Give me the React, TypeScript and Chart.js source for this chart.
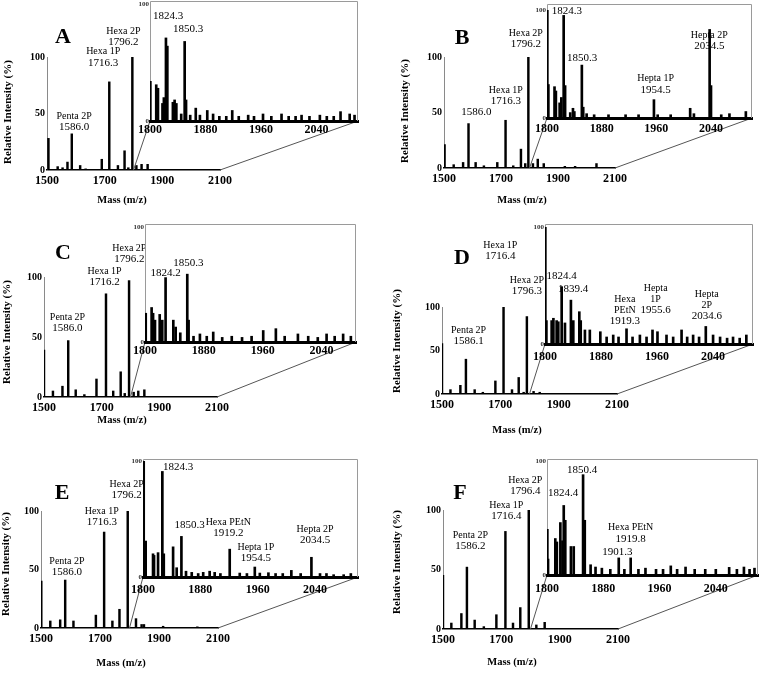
import React, { useEffect, useRef } from "react";
import { Chart, registerables } from "chart.js";

Chart.register(...registerables);

const SERIF = "'Liberation Serif', 'Times New Roman', serif";

type Peak = [number, number];
type Note = { text: string[]; at: [number, number] };

// ---------- shared axis values ----------
const MAIN_MIN = 1500;
const MAIN_MAX = 2100;
const INSET_START = 1800;
const MAIN_X_TICKS = [1500, 1700, 1900, 2100];
const INSET_X_TICKS = [1800, 1880, 1960, 2040];
const MAIN_Y_TICKS = [0, 50, 100];
const INSET_Y_TICKS = [0, 100];
const PANEL_LETTERS = ["A", "B", "C", "D", "E", "F"];

// ---------- Panel A ----------
const aMainPeaks: Peak[] = [[1505, 28], [1537, 3], [1554, 2], [1571, 7], [1586, 32], [1615, 4], [1634, 1], [1690, 9.5], [1716, 78], [1746, 4], [1769, 17], [1782, 2], [1796, 100], [1810, 4], [1828, 5], [1849, 5]];
const aInsetPeaks: Peak[] = [[1800.5, 34], [1809, 31], [1811.5, 28], [1818, 15], [1820, 20], [1823, 71], [1825, 64], [1833, 16], [1835.5, 18], [1838, 15], [1845, 6], [1850, 68], [1852, 18], [1858, 5], [1866, 11], [1872, 5], [1882.6, 9], [1891, 6], [1900, 4], [1910, 4], [1918.6, 9], [1928, 4], [1941.6, 5], [1950, 4], [1963, 6], [1975, 4], [1989.7, 6], [2000, 4], [2010, 4], [2018.6, 5], [2030, 4], [2045, 5], [2055, 4], [2065, 4], [2074.8, 8], [2088, 6], [2095, 5]];
const aMainNotes: Note[] = [
  { text: ["Penta 2P", "1586.0"], at: [1594, 33] },
  { text: ["Hexa 1P", "1716.3"], at: [1695, 90] },
  { text: ["Hexa 2P", "1796.2"], at: [1765, 108] },
];
const aInsetNotes: Note[] = [
  { text: ["1824.3"], at: [1826, 85] },
  { text: ["1850.3"], at: [1855, 73.5] },
];

// ---------- Panel B ----------
const bMainPeaks: Peak[] = [[1502, 21], [1534, 3], [1567, 5], [1586, 40], [1611, 5], [1640, 2], [1687, 5], [1716, 43], [1743, 2], [1770, 17], [1785, 4], [1796, 100], [1812, 4], [1829, 8], [1850, 4], [1924, 1.5], [1960, 1.5], [2035, 4]];
const bInsetPeaks: Peak[] = [[1800.5, 100], [1802, 31], [1811, 29], [1813, 25], [1818.5, 14], [1821, 19], [1824.4, 95], [1826.5, 30], [1834, 5], [1838, 9], [1840, 6], [1851, 49], [1853, 10], [1858, 4], [1869, 3], [1890, 3], [1915, 3], [1934, 3], [1956.5, 17], [1962, 3], [1981, 3], [2009.5, 9], [2015, 4], [2038, 82], [2040, 30], [2055, 3], [2067, 4], [2091, 6]];
const bMainNotes: Note[] = [
  { text: ["1586.0"], at: [1614, 45] },
  { text: ["Hexa 1P", "1716.3"], at: [1717, 55] },
  { text: ["Hexa 2P", "1796.2"], at: [1787, 106.6] },
];
const bInsetNotes: Note[] = [
  { text: ["1824.3"], at: [1829, 94] },
  { text: ["1850.3"], at: [1851.4, 50] },
  { text: ["Hepta 1P", "1954.5"], at: [1959, 21] },
  { text: ["Hepta 2P", "2034.5"], at: [2037.5, 61.5] },
];

// ---------- Panel C ----------
const cMainPeaks: Peak[] = [[1500, 39], [1531, 5], [1564, 9], [1584, 47], [1610, 6], [1640, 2], [1682, 15], [1715, 86], [1740, 5], [1766, 21], [1780, 3], [1795, 97], [1811, 4], [1827, 5], [1848, 6]];
const cInsetPeaks: Peak[] = [[1801, 25], [1809, 30], [1811, 25], [1813.6, 19], [1820, 24], [1823.5, 19], [1828, 56], [1838.5, 19], [1841.7, 13], [1848, 8], [1857.5, 59], [1859.3, 19], [1866, 5], [1874.7, 7], [1884, 5], [1892.8, 8.7], [1905, 4], [1918, 5], [1932, 4], [1945, 5], [1960.8, 10], [1978, 11.6], [1990, 5], [2008, 7], [2022, 5], [2035, 4], [2047, 7], [2058, 5], [2069.5, 7], [2080, 5]];
const cMainNotes: Note[] = [
  { text: ["Penta 2P", "1586.0"], at: [1581.5, 53] },
  { text: ["Hexa 1P", "1716.2"], at: [1710, 91] },
  { text: ["Hexa 2P", "1796.2"], at: [1796, 110] },
];
const cInsetNotes: Note[] = [
  { text: ["1824.2"], at: [1828, 55] },
  { text: ["1850.3"], at: [1859, 64] },
];

// ---------- Panel D ----------
const dMainPeaks: Peak[] = [[1500, 58], [1529, 5], [1563, 10], [1582, 40], [1612, 5], [1640, 2], [1683, 15], [1711, 100], [1740, 5], [1763, 19], [1780, 2], [1791, 89], [1814, 3], [1835, 2]];
const dInsetPeaks: Peak[] = [[1800.5, 100], [1802, 20], [1809.5, 20], [1812, 22], [1816.6, 20], [1819, 19], [1823.8, 49], [1828.5, 18], [1837, 37.5], [1840.4, 20], [1849, 27.6], [1851, 20], [1857, 12], [1864, 12], [1879, 10.5], [1888, 6], [1897.4, 7.7], [1905, 6], [1916.4, 13], [1925, 6], [1935.5, 7.7], [1945, 6], [1953.5, 12], [1960.6, 10.5], [1973.5, 7.7], [1983, 6], [1995, 12], [2003, 6], [2011.5, 7.7], [2020, 6], [2029.6, 15], [2040, 7.7], [2050, 6], [2060, 5], [2068.5, 6], [2078, 5], [2087.5, 7.7]];
const dMainNotes: Note[] = [
  { text: ["Penta 2P", "1586.1"], at: [1591, 54] },
  { text: ["Hexa 1P", "1716.4"], at: [1700, 152] },
  { text: ["Hexa 2P", "1796.3"], at: [1791, 112] },
];
const dInsetNotes: Note[] = [
  { text: ["1824.4"], at: [1823.8, 53] },
  { text: ["1839.4"], at: [1840, 42] },
  { text: ["Hexa", "PEtN", "1919.3"], at: [1914, 14.5] },
  { text: ["Hepta", "1P", "1955.6"], at: [1958, 24] },
  { text: ["Hepta", "2P", "2034.6"], at: [2031, 19] },
];

// ---------- Panel E ----------
const eMainPeaks: Peak[] = [[1501, 40], [1531.5, 6], [1565, 7], [1582, 41], [1610, 6], [1686, 11], [1714, 82], [1742, 6], [1766, 16], [1794, 100], [1822, 8], [1841, 3], [1849, 3], [1914, 1.5], [2030, 1]];
const eInsetPeaks: Peak[] = [[1801, 100], [1803.7, 31], [1814, 20], [1815.4, 18.6], [1821, 21], [1827, 91], [1829, 20], [1842, 26], [1847, 8], [1853.6, 35], [1860, 5], [1868, 4], [1877, 3], [1884, 4], [1893, 5], [1900, 4], [1908, 3], [1921, 24], [1935, 3.4], [1945, 3], [1956, 8.6], [1963, 3.4], [1975, 3.7], [1985, 3], [1995, 3], [2007, 5.7], [2020, 3], [2035, 17], [2047, 3], [2056, 3], [2066, 2], [2080, 2], [2090, 3]];
const eMainNotes: Note[] = [
  { text: ["Penta 2P", "1586.0"], at: [1588, 43] },
  { text: ["Hexa 1P", "1716.3"], at: [1706, 86] },
  { text: ["Hexa 2P", "1796.2"], at: [1790.5, 109] },
];
const eInsetNotes: Note[] = [
  { text: ["1824.3"], at: [1849, 90] },
  { text: ["1850.3"], at: [1865, 40] },
  { text: ["Hexa PEtN", "1919.2"], at: [1919, 33] },
  { text: ["Hepta 1P", "1954.5"], at: [1957.5, 11.5] },
  { text: ["Hepta 2P", "2034.5"], at: [2040, 27] },
];

// ---------- Panel F ----------
const fMainPeaks: Peak[] = [[1500, 45], [1528.6, 5], [1563, 13], [1582, 52], [1608.6, 7.5], [1640, 2], [1683, 12], [1714, 82], [1740, 5], [1765, 18], [1794, 100], [1820, 3.4], [1848.6, 5.6]];
const fInsetPeaks: Peak[] = [[1800.5, 40], [1801.5, 14], [1811.8, 32], [1814, 29], [1819, 46], [1822, 30], [1823.8, 61], [1826, 48], [1834, 25], [1838, 25], [1851.3, 88], [1853.7, 48], [1862, 9], [1869, 7], [1878, 6], [1890, 5], [1902, 15], [1910, 5], [1919, 15], [1930, 5], [1940, 6], [1955, 5], [1965, 5], [1976, 8], [1985, 5], [1997, 7], [2010, 5], [2025, 5], [2040, 5], [2059, 6.7], [2070, 5], [2080, 7], [2088, 5], [2095, 6]];
const fMainNotes: Note[] = [
  { text: ["Penta 2P", "1586.2"], at: [1594, 64.7] },
  { text: ["Hexa 1P", "1716.4"], at: [1717, 90] },
  { text: ["Hexa 2P", "1796.4"], at: [1782, 111] },
];
const fInsetNotes: Note[] = [
  { text: ["1824.4"], at: [1822.8, 66.7] },
  { text: ["1850.4"], at: [1850, 87.6] },
  { text: ["Hexa PEtN", "1919.8"], at: [1919, 27] },
  { text: ["1901.3"], at: [1900, 15] },
];

const INSET_MAX = [2100, 2100, 2087, 2097, 2100, 2100];

// ---------- layout (page pixels) ----------
type Box = { L: number; R: number; T: number; B: number };
type Layout = {
  canvas: [number, number, number, number];
  main: Box;
  inset: Box;
  frameTop: number;
  letter: [number, number];
  yTitle: [number, number];
  xTitle: [number, number];
  insetPad: number;
};

const LAYOUTS: Layout[] = [
  { canvas: [0, 0, 380, 220], main: { L: 47, R: 220, T: 57, B: 170 }, inset: { L: 150, R: 358, T: 4, B: 121 }, frameTop: 1, letter: [63, 37], yTitle: [8, 112], xTitle: [122, 200], insetPad: 2 },
  { canvas: [380, 0, 380, 220], main: { L: 444, R: 615, T: 57, B: 168 }, inset: { L: 547, R: 752, T: 10, B: 118 }, frameTop: 4, letter: [462, 38], yTitle: [405, 111], xTitle: [522, 200], insetPad: 4 },
  { canvas: [0, 220, 380, 220], main: { L: 44, R: 217, T: 277, B: 397 }, inset: { L: 145, R: 356, T: 227, B: 342 }, frameTop: 224, letter: [63, 253], yTitle: [7, 332], xTitle: [122, 420], insetPad: 2 },
  { canvas: [380, 220, 380, 220], main: { L: 442, R: 617, T: 307, B: 394 }, inset: { L: 545, R: 753, T: 227, B: 344 }, frameTop: 224, letter: [462, 258], yTitle: [397, 341], xTitle: [517, 430], insetPad: 6 },
  { canvas: [0, 440, 380, 233], main: { L: 41, R: 218, T: 511, B: 628 }, inset: { L: 143, R: 358, T: 461, B: 577 }, frameTop: 459, letter: [62, 493], yTitle: [6, 564], xTitle: [121, 663], insetPad: 6 },
  { canvas: [380, 440, 380, 233], main: { L: 443, R: 618, T: 510, B: 629 }, inset: { L: 547, R: 758, T: 461, B: 575 }, frameTop: 459, letter: [460, 493], yTitle: [397, 562], xTitle: [512, 662], insetPad: 7 },
];

type PanelDef = {
  letter: string;
  mainPeaks: Peak[];
  insetPeaks: Peak[];
  mainNotes: Note[];
  insetNotes: Note[];
  insetMax: number;
  layout: Layout;
};

const PANELS: PanelDef[] = [
  { mainPeaks: aMainPeaks, insetPeaks: aInsetPeaks, mainNotes: aMainNotes, insetNotes: aInsetNotes },
  { mainPeaks: bMainPeaks, insetPeaks: bInsetPeaks, mainNotes: bMainNotes, insetNotes: bInsetNotes },
  { mainPeaks: cMainPeaks, insetPeaks: cInsetPeaks, mainNotes: cMainNotes, insetNotes: cInsetNotes },
  { mainPeaks: dMainPeaks, insetPeaks: dInsetPeaks, mainNotes: dMainNotes, insetNotes: dInsetNotes },
  { mainPeaks: eMainPeaks, insetPeaks: eInsetPeaks, mainNotes: eMainNotes, insetNotes: eInsetNotes },
  { mainPeaks: fMainPeaks, insetPeaks: fInsetPeaks, mainNotes: fMainNotes, insetNotes: fInsetNotes },
].map((p, i) => ({ ...p, letter: PANEL_LETTERS[i], insetMax: INSET_MAX[i], layout: LAYOUTS[i] }));

const AXIS_FONT = { family: SERIF, size: 12, weight: "bold" as const };

function drawNotes(ctx: CanvasRenderingContext2D, xs: any, ys: any, notes: Note[]) {
  ctx.fillStyle = "#000";
  ctx.textAlign = "center";
  ctx.textBaseline = "middle";
  for (const n of notes) {
    const x = xs.getPixelForValue(n.at[0]);
    const yb = ys.getPixelForValue(n.at[1]);
    const k = n.text.length;
    n.text.forEach((line, i) => {
      const isNum = /^[\d.]+$/.test(line);
      ctx.font = `${isNum ? 11 : 10}px ${SERIF}`;
      ctx.fillText(line, x, yb - 5.5 - (k - 1 - i) * 11);
    });
  }
}

function insetGeom(g: Layout) {
  const ix = g.inset.L - 26;
  const iy = g.frameTop - 4;
  const iw = g.inset.R - ix + 2;
  const ih = g.inset.B - iy + 24;
  return { ix, iy, iw, ih };
}

function makeInset(canvas: HTMLCanvasElement, def: PanelDef) {
  const g = def.layout;
  const { ix, iy, iw, ih } = insetGeom(g);
  const WY = 16;
  const HX = 22;
  const frameY = g.frameTop - iy;
  return new Chart(canvas, {
    type: "bar",
    data: {
      datasets: [
        {
          data: def.insetPeaks.map(([x, y]) => ({ x, y })),
          backgroundColor: "#000",
          borderWidth: 0,
          barThickness: 2,
        } as any,
      ],
    },
    options: {
      responsive: false,
      animation: false,
      devicePixelRatio: 1,
      events: [],
      layout: {
        padding: { left: 26 - WY, top: g.inset.T - iy, right: iw - (g.inset.R - ix), bottom: ih - (g.inset.B - iy) - HX },
      },
      plugins: { legend: { display: false }, tooltip: { enabled: false } },
      scales: {
        x: {
          type: "linear",
          min: INSET_START,
          max: def.insetMax,
          offset: false,
          grid: { display: false, drawTicks: false },
          border: { display: true, color: "#000", width: 3 },
          afterBuildTicks: (s: any) => {
            s.ticks = INSET_X_TICKS.map((value) => ({ value }));
          },
          afterFit: (s: any) => {
            s.height = HX;
          },
          ticks: { autoSkip: false, maxRotation: 0, padding: g.insetPad, color: "#000", font: AXIS_FONT, callback: (v: any) => String(v) },
        },
        y: {
          type: "linear",
          min: 0,
          max: 100,
          grid: { display: false, drawTicks: false },
          border: { display: false },
          afterBuildTicks: (s: any) => {
            s.ticks = INSET_Y_TICKS.map((value) => ({ value }));
          },
          afterFit: (s: any) => {
            s.width = WY;
          },
          ticks: { padding: 1, color: "#333", font: { family: SERIF, size: 7, weight: "bold" }, callback: (v: any) => String(v) },
        },
      },
    } as any,
    plugins: [
      {
        id: "insetFrame",
        beforeDatasetsDraw(chart: any) {
          const { ctx, chartArea } = chart;
          ctx.save();
          ctx.strokeStyle = "#9a9a9a";
          ctx.lineWidth = 1;
          ctx.beginPath();
          ctx.moveTo(chartArea.left + 0.5, chartArea.bottom);
          ctx.lineTo(chartArea.left + 0.5, frameY + 0.5);
          ctx.lineTo(chartArea.right - 0.5, frameY + 0.5);
          ctx.lineTo(chartArea.right - 0.5, chartArea.bottom);
          ctx.stroke();
          ctx.restore();
        },
        afterDraw(chart: any) {
          const { ctx } = chart;
          ctx.save();
          drawNotes(ctx, chart.scales.x, chart.scales.y, def.insetNotes);
          ctx.restore();
        },
      },
    ],
  });
}

function makeMain(canvas: HTMLCanvasElement, def: PanelDef, inset: Chart) {
  const g = def.layout;
  const [cx, cy, cw, ch] = g.canvas;
  const m = g.main;
  const { ix, iy } = insetGeom(g);
  const WY = 30;
  const HX = 20;
  return new Chart(canvas, {
    type: "bar",
    data: {
      datasets: [
        {
          data: def.mainPeaks.map(([x, y]) => ({ x, y })),
          backgroundColor: "#000",
          borderWidth: 0,
          barThickness: 1.8,
        } as any,
      ],
    },
    options: {
      responsive: false,
      animation: false,
      devicePixelRatio: 1,
      events: [],
      layout: {
        padding: { left: m.L - cx - WY, top: m.T - cy, right: cx + cw - m.R, bottom: cy + ch - m.B - HX },
      },
      plugins: { legend: { display: false }, tooltip: { enabled: false } },
      scales: {
        x: {
          type: "linear",
          min: MAIN_MIN,
          max: MAIN_MAX,
          offset: false,
          grid: { display: false, drawTicks: false },
          border: { display: true, color: "#000", width: 1.5 },
          afterBuildTicks: (s: any) => {
            s.ticks = MAIN_X_TICKS.map((value) => ({ value }));
          },
          afterFit: (s: any) => {
            s.height = HX;
          },
          ticks: { autoSkip: false, maxRotation: 0, padding: 4, color: "#000", font: AXIS_FONT, callback: (v: any) => String(v) },
        },
        y: {
          type: "linear",
          min: 0,
          max: 100,
          grid: { display: false, drawTicks: false },
          border: { display: true, color: "#8a8a8a", width: 1 },
          afterBuildTicks: (s: any) => {
            s.ticks = MAIN_Y_TICKS.map((value) => ({ value }));
          },
          afterFit: (s: any) => {
            s.width = WY;
          },
          ticks: { padding: 2, color: "#000", font: { family: SERIF, size: 10, weight: "bold" }, callback: (v: any) => String(v) },
        },
      },
    } as any,
    plugins: [
      {
        id: "mainDeco",
        afterDraw(chart: any) {
          const { ctx } = chart;
          const xs = chart.scales.x;
          const ys = chart.scales.y;
          const ixs: any = (inset as any).scales.x;
          const iys: any = (inset as any).scales.y;
          const ox = ix - cx;
          const oy = iy - cy;
          ctx.save();
          // zoom connectors
          ctx.strokeStyle = "#555";
          ctx.lineWidth = 1;
          ctx.beginPath();
          ctx.moveTo(xs.getPixelForValue(INSET_START), ys.getPixelForValue(0));
          ctx.lineTo(ox + ixs.getPixelForValue(INSET_START), oy + iys.getPixelForValue(0));
          ctx.moveTo(xs.getPixelForValue(MAIN_MAX), ys.getPixelForValue(0));
          ctx.lineTo(ox + ixs.getPixelForValue(def.insetMax), oy + iys.getPixelForValue(0));
          ctx.stroke();
          // panel letter
          ctx.fillStyle = "#000";
          ctx.textAlign = "center";
          ctx.textBaseline = "middle";
          ctx.font = `bold 22px ${SERIF}`;
          ctx.fillText(def.letter, g.letter[0] - cx, g.letter[1] - cy);
          // axis titles
          ctx.font = `bold 10.5px ${SERIF}`;
          ctx.fillText("Mass (m/z)", g.xTitle[0] - cx, g.xTitle[1] - cy);
          ctx.save();
          ctx.translate(g.yTitle[0] - cx, g.yTitle[1] - cy);
          ctx.rotate(-Math.PI / 2);
          ctx.font = `bold 11px ${SERIF}`;
          ctx.fillText("Relative Intensity (%)", 0, 0);
          ctx.restore();
          drawNotes(ctx, xs, ys, def.mainNotes);
          ctx.restore();
        },
      },
    ],
  });
}

function Panel({ def }: { def: PanelDef }) {
  const mainRef = useRef<HTMLCanvasElement>(null);
  const insetRef = useRef<HTMLCanvasElement>(null);
  const g = def.layout;
  const [cx, cy, cw, ch] = g.canvas;
  const { ix, iy, iw, ih } = insetGeom(g);
  useEffect(() => {
    if (!mainRef.current || !insetRef.current) return;
    const inset = makeInset(insetRef.current, def);
    const main = makeMain(mainRef.current, def, inset);
    return () => {
      main.destroy();
      inset.destroy();
    };
  }, [def]);
  return (
    <>
      <canvas ref={mainRef} width={cw} height={ch} style={{ position: "absolute", left: cx, top: cy, width: cw, height: ch }} />
      <canvas ref={insetRef} width={iw} height={ih} style={{ position: "absolute", left: ix, top: iy, width: iw, height: ih }} />
    </>
  );
}

export default function App() {
  return (
    <div style={{ position: "absolute", left: 0, top: 0, width: 760, height: 673, background: "#fff", overflow: "hidden" }}>
      {PANELS.map((p) => (
        <Panel key={p.letter} def={p} />
      ))}
    </div>
  );
}
